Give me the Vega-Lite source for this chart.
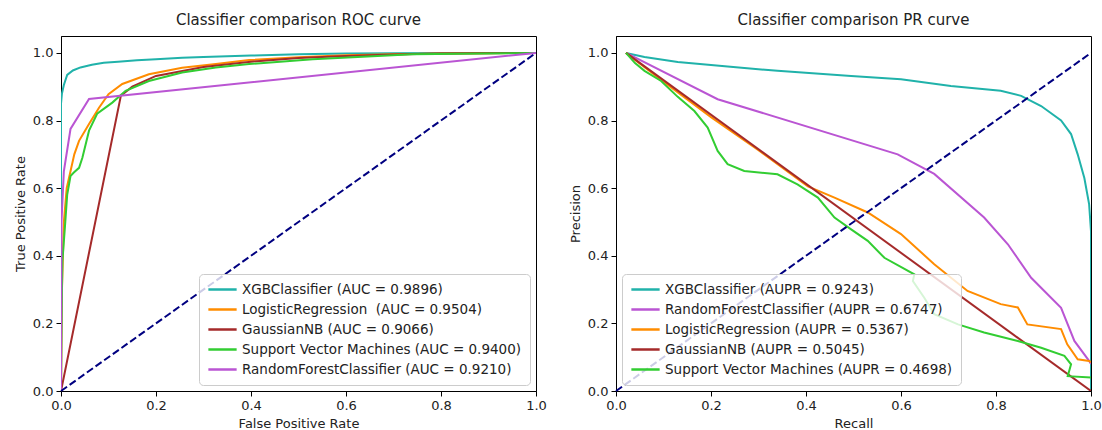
{
  "$schema": "https://vega.github.io/schema/vega-lite/v6.json",
  "background": "white",
  "padding": {"left": 13, "top": 12, "right": 5, "bottom": 2},
  "spacing": 21,
  "config": {
    "font": "DejaVu Sans",
    "view": {"stroke": "black", "strokeWidth": 1},
    "title": {"fontSize": 15, "fontWeight": "normal", "color": "#222", "offset": 8},
    "axis": {
      "grid": false, "domainColor": "black", "tickColor": "black", "tickSize": 5,
      "labelFontSize": 13, "labelColor": "#222", "labelPadding": 3, "labelFlush": false, "labelOverlap": false,
      "titleFontSize": 13, "titleFontWeight": "normal", "titleColor": "#222", "titlePadding": 5
    },
    "legend": {
      "orient": "bottom-right", "title": null, "symbolType": "stroke", "symbolSize": 800,
      "symbolStrokeWidth": 2.5, "labelFontSize": 13.5, "labelColor": "#222", "clipHeight": 15, "rowPadding": 5,
      "padding": 8, "fillColor": "rgba(255,255,255,0.8)", "strokeColor": "#cccccc", "cornerRadius": 4, "offset": 6,
      "labelLimit": 400
    }
  },
  "resolve": {"scale": {"color": "independent"}, "legend": {"color": "independent"}},
  "datasets": {
    "roc": [
      {"m": "XGBClassifier", "i": 0, "x": 0, "y": 0},
      {"m": "XGBClassifier", "i": 1, "x": 0, "y": 0.85},
      {"m": "XGBClassifier", "i": 2, "x": 0.002, "y": 0.88},
      {"m": "XGBClassifier", "i": 3, "x": 0.006, "y": 0.905},
      {"m": "XGBClassifier", "i": 4, "x": 0.013, "y": 0.935},
      {"m": "XGBClassifier", "i": 5, "x": 0.025, "y": 0.948},
      {"m": "XGBClassifier", "i": 6, "x": 0.041, "y": 0.957},
      {"m": "XGBClassifier", "i": 7, "x": 0.065, "y": 0.965},
      {"m": "XGBClassifier", "i": 8, "x": 0.09, "y": 0.971},
      {"m": "XGBClassifier", "i": 9, "x": 0.12, "y": 0.974},
      {"m": "XGBClassifier", "i": 10, "x": 0.16, "y": 0.978},
      {"m": "XGBClassifier", "i": 11, "x": 0.2, "y": 0.981},
      {"m": "XGBClassifier", "i": 12, "x": 0.255, "y": 0.986},
      {"m": "XGBClassifier", "i": 13, "x": 0.3, "y": 0.988},
      {"m": "XGBClassifier", "i": 14, "x": 0.4, "y": 0.992},
      {"m": "XGBClassifier", "i": 15, "x": 0.5, "y": 0.996},
      {"m": "XGBClassifier", "i": 16, "x": 0.6, "y": 0.998},
      {"m": "XGBClassifier", "i": 17, "x": 0.8, "y": 1.0},
      {"m": "XGBClassifier", "i": 18, "x": 1, "y": 1},
      {"m": "LogisticRegression", "i": 0, "x": 0, "y": 0},
      {"m": "LogisticRegression", "i": 1, "x": 0.002, "y": 0.3},
      {"m": "LogisticRegression", "i": 2, "x": 0.006, "y": 0.5},
      {"m": "LogisticRegression", "i": 3, "x": 0.012, "y": 0.6},
      {"m": "LogisticRegression", "i": 4, "x": 0.02, "y": 0.65},
      {"m": "LogisticRegression", "i": 5, "x": 0.028, "y": 0.7},
      {"m": "LogisticRegression", "i": 6, "x": 0.038, "y": 0.74},
      {"m": "LogisticRegression", "i": 7, "x": 0.059, "y": 0.79},
      {"m": "LogisticRegression", "i": 8, "x": 0.08, "y": 0.838},
      {"m": "LogisticRegression", "i": 9, "x": 0.1, "y": 0.878},
      {"m": "LogisticRegression", "i": 10, "x": 0.129, "y": 0.908},
      {"m": "LogisticRegression", "i": 11, "x": 0.185, "y": 0.937},
      {"m": "LogisticRegression", "i": 12, "x": 0.255, "y": 0.956},
      {"m": "LogisticRegression", "i": 13, "x": 0.326, "y": 0.967},
      {"m": "LogisticRegression", "i": 14, "x": 0.396, "y": 0.979},
      {"m": "LogisticRegression", "i": 15, "x": 0.5, "y": 0.987},
      {"m": "LogisticRegression", "i": 16, "x": 0.6, "y": 0.993},
      {"m": "LogisticRegression", "i": 17, "x": 0.7, "y": 0.996},
      {"m": "LogisticRegression", "i": 18, "x": 0.8, "y": 0.998},
      {"m": "LogisticRegression", "i": 19, "x": 0.9, "y": 0.999},
      {"m": "LogisticRegression", "i": 20, "x": 1, "y": 1},
      {"m": "GaussianNB", "i": 0, "x": 0, "y": 0},
      {"m": "GaussianNB", "i": 1, "x": 0.126, "y": 0.873},
      {"m": "GaussianNB", "i": 2, "x": 0.15, "y": 0.9},
      {"m": "GaussianNB", "i": 3, "x": 0.2, "y": 0.932},
      {"m": "GaussianNB", "i": 4, "x": 0.3, "y": 0.958},
      {"m": "GaussianNB", "i": 5, "x": 0.4, "y": 0.974},
      {"m": "GaussianNB", "i": 6, "x": 0.5, "y": 0.985},
      {"m": "GaussianNB", "i": 7, "x": 0.6, "y": 0.991},
      {"m": "GaussianNB", "i": 8, "x": 0.7, "y": 0.995},
      {"m": "GaussianNB", "i": 9, "x": 0.8, "y": 0.998},
      {"m": "GaussianNB", "i": 10, "x": 1, "y": 1},
      {"m": "Support Vector Machines", "i": 0, "x": 0, "y": 0},
      {"m": "Support Vector Machines", "i": 1, "x": 0.002, "y": 0.3},
      {"m": "Support Vector Machines", "i": 2, "x": 0.003, "y": 0.385},
      {"m": "Support Vector Machines", "i": 3, "x": 0.008, "y": 0.48},
      {"m": "Support Vector Machines", "i": 4, "x": 0.013, "y": 0.58},
      {"m": "Support Vector Machines", "i": 5, "x": 0.02, "y": 0.636},
      {"m": "Support Vector Machines", "i": 6, "x": 0.027, "y": 0.646},
      {"m": "Support Vector Machines", "i": 7, "x": 0.038, "y": 0.66},
      {"m": "Support Vector Machines", "i": 8, "x": 0.045, "y": 0.69},
      {"m": "Support Vector Machines", "i": 9, "x": 0.059, "y": 0.77},
      {"m": "Support Vector Machines", "i": 10, "x": 0.076, "y": 0.82},
      {"m": "Support Vector Machines", "i": 11, "x": 0.108, "y": 0.853},
      {"m": "Support Vector Machines", "i": 12, "x": 0.136, "y": 0.888},
      {"m": "Support Vector Machines", "i": 13, "x": 0.185, "y": 0.917},
      {"m": "Support Vector Machines", "i": 14, "x": 0.255, "y": 0.942},
      {"m": "Support Vector Machines", "i": 15, "x": 0.326, "y": 0.957},
      {"m": "Support Vector Machines", "i": 16, "x": 0.396, "y": 0.967},
      {"m": "Support Vector Machines", "i": 17, "x": 0.53, "y": 0.981},
      {"m": "Support Vector Machines", "i": 18, "x": 0.74, "y": 0.996},
      {"m": "Support Vector Machines", "i": 19, "x": 1, "y": 1},
      {"m": "RandomForestClassifier", "i": 0, "x": 0, "y": 0},
      {"m": "RandomForestClassifier", "i": 1, "x": 0.001, "y": 0.5},
      {"m": "RandomForestClassifier", "i": 2, "x": 0.006, "y": 0.65},
      {"m": "RandomForestClassifier", "i": 3, "x": 0.02, "y": 0.775},
      {"m": "RandomForestClassifier", "i": 4, "x": 0.059, "y": 0.864},
      {"m": "RandomForestClassifier", "i": 5, "x": 1, "y": 1}
    ],
    "pr": [
      {"m": "XGBClassifier", "i": 0, "x": 0.021, "y": 1.0},
      {"m": "XGBClassifier", "i": 1, "x": 0.06, "y": 0.988},
      {"m": "XGBClassifier", "i": 2, "x": 0.13, "y": 0.973},
      {"m": "XGBClassifier", "i": 3, "x": 0.235, "y": 0.96},
      {"m": "XGBClassifier", "i": 4, "x": 0.34, "y": 0.947},
      {"m": "XGBClassifier", "i": 5, "x": 0.495, "y": 0.932},
      {"m": "XGBClassifier", "i": 6, "x": 0.6, "y": 0.922},
      {"m": "XGBClassifier", "i": 7, "x": 0.705, "y": 0.902},
      {"m": "XGBClassifier", "i": 8, "x": 0.81, "y": 0.888},
      {"m": "XGBClassifier", "i": 9, "x": 0.853, "y": 0.873},
      {"m": "XGBClassifier", "i": 10, "x": 0.895, "y": 0.843},
      {"m": "XGBClassifier", "i": 11, "x": 0.937, "y": 0.8},
      {"m": "XGBClassifier", "i": 12, "x": 0.958, "y": 0.76},
      {"m": "XGBClassifier", "i": 13, "x": 0.972, "y": 0.7},
      {"m": "XGBClassifier", "i": 14, "x": 0.986, "y": 0.63},
      {"m": "XGBClassifier", "i": 15, "x": 0.996, "y": 0.553},
      {"m": "XGBClassifier", "i": 16, "x": 1.0, "y": 0.473},
      {"m": "XGBClassifier", "i": 17, "x": 1.0, "y": 0.0},
      {"m": "RandomForestClassifier", "i": 0, "x": 0.021, "y": 1.0},
      {"m": "RandomForestClassifier", "i": 1, "x": 0.214, "y": 0.863},
      {"m": "RandomForestClassifier", "i": 2, "x": 0.593, "y": 0.7},
      {"m": "RandomForestClassifier", "i": 3, "x": 0.67, "y": 0.642},
      {"m": "RandomForestClassifier", "i": 4, "x": 0.775, "y": 0.513},
      {"m": "RandomForestClassifier", "i": 5, "x": 0.825, "y": 0.434},
      {"m": "RandomForestClassifier", "i": 6, "x": 0.874, "y": 0.335},
      {"m": "RandomForestClassifier", "i": 7, "x": 0.937, "y": 0.246},
      {"m": "RandomForestClassifier", "i": 8, "x": 0.965, "y": 0.148},
      {"m": "RandomForestClassifier", "i": 9, "x": 0.996, "y": 0.089},
      {"m": "RandomForestClassifier", "i": 10, "x": 1.0, "y": 0.08},
      {"m": "LogisticRegression", "i": 0, "x": 0.021, "y": 1.0},
      {"m": "LogisticRegression", "i": 1, "x": 0.1, "y": 0.915},
      {"m": "LogisticRegression", "i": 2, "x": 0.2, "y": 0.81},
      {"m": "LogisticRegression", "i": 3, "x": 0.3, "y": 0.712},
      {"m": "LogisticRegression", "i": 4, "x": 0.404, "y": 0.605},
      {"m": "LogisticRegression", "i": 5, "x": 0.46, "y": 0.572},
      {"m": "LogisticRegression", "i": 6, "x": 0.53, "y": 0.528},
      {"m": "LogisticRegression", "i": 7, "x": 0.6, "y": 0.464},
      {"m": "LogisticRegression", "i": 8, "x": 0.67, "y": 0.375},
      {"m": "LogisticRegression", "i": 9, "x": 0.74, "y": 0.296},
      {"m": "LogisticRegression", "i": 10, "x": 0.81, "y": 0.257},
      {"m": "LogisticRegression", "i": 11, "x": 0.846, "y": 0.247},
      {"m": "LogisticRegression", "i": 12, "x": 0.866, "y": 0.197},
      {"m": "LogisticRegression", "i": 13, "x": 0.937, "y": 0.183},
      {"m": "LogisticRegression", "i": 14, "x": 0.95, "y": 0.138},
      {"m": "LogisticRegression", "i": 15, "x": 0.972, "y": 0.094},
      {"m": "LogisticRegression", "i": 16, "x": 0.996, "y": 0.089},
      {"m": "LogisticRegression", "i": 17, "x": 1.0, "y": 0.085},
      {"m": "GaussianNB", "i": 0, "x": 0.021, "y": 1.0},
      {"m": "GaussianNB", "i": 1, "x": 1.0, "y": 0.0},
      {"m": "Support Vector Machines", "i": 0, "x": 0.021, "y": 1.0},
      {"m": "Support Vector Machines", "i": 1, "x": 0.04, "y": 0.97},
      {"m": "Support Vector Machines", "i": 2, "x": 0.06, "y": 0.947},
      {"m": "Support Vector Machines", "i": 3, "x": 0.095, "y": 0.917},
      {"m": "Support Vector Machines", "i": 4, "x": 0.13, "y": 0.87},
      {"m": "Support Vector Machines", "i": 5, "x": 0.165, "y": 0.828},
      {"m": "Support Vector Machines", "i": 6, "x": 0.193, "y": 0.779},
      {"m": "Support Vector Machines", "i": 7, "x": 0.214, "y": 0.71},
      {"m": "Support Vector Machines", "i": 8, "x": 0.235, "y": 0.671},
      {"m": "Support Vector Machines", "i": 9, "x": 0.27, "y": 0.651},
      {"m": "Support Vector Machines", "i": 10, "x": 0.34, "y": 0.641},
      {"m": "Support Vector Machines", "i": 11, "x": 0.382, "y": 0.611},
      {"m": "Support Vector Machines", "i": 12, "x": 0.425, "y": 0.572},
      {"m": "Support Vector Machines", "i": 13, "x": 0.46, "y": 0.513},
      {"m": "Support Vector Machines", "i": 14, "x": 0.495, "y": 0.478},
      {"m": "Support Vector Machines", "i": 15, "x": 0.53, "y": 0.444},
      {"m": "Support Vector Machines", "i": 16, "x": 0.565, "y": 0.394},
      {"m": "Support Vector Machines", "i": 17, "x": 0.628, "y": 0.345},
      {"m": "Support Vector Machines", "i": 18, "x": 0.625, "y": 0.325},
      {"m": "Support Vector Machines", "i": 19, "x": 0.649, "y": 0.276},
      {"m": "Support Vector Machines", "i": 20, "x": 0.67, "y": 0.227},
      {"m": "Support Vector Machines", "i": 21, "x": 0.72, "y": 0.197},
      {"m": "Support Vector Machines", "i": 22, "x": 0.775, "y": 0.173},
      {"m": "Support Vector Machines", "i": 23, "x": 0.846, "y": 0.148},
      {"m": "Support Vector Machines", "i": 24, "x": 0.895, "y": 0.128},
      {"m": "Support Vector Machines", "i": 25, "x": 0.944, "y": 0.104},
      {"m": "Support Vector Machines", "i": 26, "x": 0.958, "y": 0.079},
      {"m": "Support Vector Machines", "i": 27, "x": 0.951, "y": 0.044},
      {"m": "Support Vector Machines", "i": 28, "x": 1.0, "y": 0.04}
    ],
    "diag": [
      {"x": 0, "y": 0},
      {"x": 1, "y": 1}
    ]
  },
  "hconcat": [
    {
      "title": "Classifier comparison ROC curve",
      "width": 475,
      "height": 355,
      "layer": [
        {
          "data": {"name": "roc"},
          "mark": {"type": "line", "strokeWidth": 2, "clip": true},
          "encoding": {
            "x": {"field": "x", "type": "quantitative", "scale": {"domain": [0, 1], "nice": false},
                  "axis": {"values": [0, 0.2, 0.4, 0.6, 0.8, 1.0], "format": ".1f"}, "title": "False Positive Rate"},
            "y": {"field": "y", "type": "quantitative", "scale": {"domain": [0, 1.05], "nice": false},
                  "axis": {"values": [0, 0.2, 0.4, 0.6, 0.8, 1.0], "format": ".1f"}, "title": "True Positive Rate"},
            "color": {
              "field": "m", "type": "nominal",
              "scale": {
                "domain": ["XGBClassifier", "LogisticRegression", "GaussianNB", "Support Vector Machines", "RandomForestClassifier"],
                "range": ["#20b2aa", "#ff8c00", "#a52a2a", "#32cd32", "#ba55d3"]
              },
              "legend": {
                "orient": "bottom-right",
                "labelExpr": "datum.label == 'XGBClassifier' ? 'XGBClassifier (AUC = 0.9896)' : datum.label == 'LogisticRegression' ? 'LogisticRegression\u00a0 (AUC = 0.9504)' : datum.label == 'GaussianNB' ? 'GaussianNB (AUC = 0.9066)' : datum.label == 'Support Vector Machines' ? 'Support Vector Machines (AUC = 0.9400)' : 'RandomForestClassifier (AUC = 0.9210)'"
              }
            },
            "order": {"field": "i"}
          }
        },
        {
          "data": {"name": "diag"},
          "mark": {"type": "line", "color": "#000080", "strokeWidth": 2, "strokeDash": [7.4, 3.2]},
          "encoding": {
            "x": {"field": "x", "type": "quantitative"},
            "y": {"field": "y", "type": "quantitative"}
          }
        }
      ]
    },
    {
      "title": "Classifier comparison PR curve",
      "width": 475,
      "height": 355,
      "layer": [
        {
          "data": {"name": "pr"},
          "mark": {"type": "line", "strokeWidth": 2, "clip": true},
          "encoding": {
            "x": {"field": "x", "type": "quantitative", "scale": {"domain": [0, 1], "nice": false},
                  "axis": {"values": [0, 0.2, 0.4, 0.6, 0.8, 1.0], "format": ".1f"}, "title": "Recall"},
            "y": {"field": "y", "type": "quantitative", "scale": {"domain": [0, 1.05], "nice": false},
                  "axis": {"values": [0, 0.2, 0.4, 0.6, 0.8, 1.0], "format": ".1f"}, "title": "Precision"},
            "color": {
              "field": "m", "type": "nominal",
              "scale": {
                "domain": ["XGBClassifier", "RandomForestClassifier", "LogisticRegression", "GaussianNB", "Support Vector Machines"],
                "range": ["#20b2aa", "#ba55d3", "#ff8c00", "#a52a2a", "#32cd32"]
              },
              "legend": {
                "orient": "bottom-left",
                "labelExpr": "datum.label == 'XGBClassifier' ? 'XGBClassifier (AUPR = 0.9243)' : datum.label == 'RandomForestClassifier' ? 'RandomForestClassifier (AUPR = 0.6747)' : datum.label == 'LogisticRegression' ? 'LogisticRegression (AUPR = 0.5367)' : datum.label == 'GaussianNB' ? 'GaussianNB (AUPR = 0.5045)' : 'Support Vector Machines (AUPR = 0.4698)'"
              }
            },
            "order": {"field": "i"}
          }
        },
        {
          "data": {"name": "diag"},
          "mark": {"type": "line", "color": "#000080", "strokeWidth": 2, "strokeDash": [7.4, 3.2]},
          "encoding": {
            "x": {"field": "x", "type": "quantitative"},
            "y": {"field": "y", "type": "quantitative"}
          }
        }
      ]
    }
  ]
}
